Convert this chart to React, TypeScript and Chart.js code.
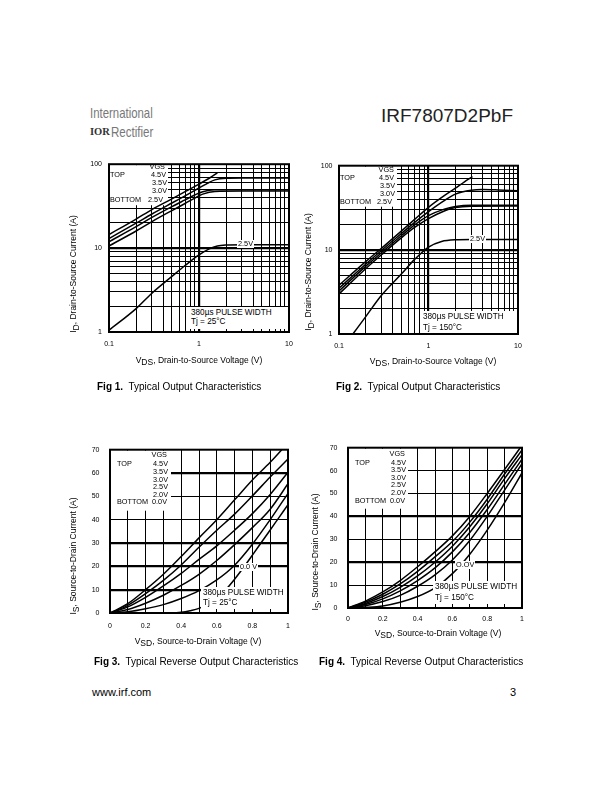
import React, { useEffect, useRef } from "react";
import { Chart, registerables } from "chart.js";
Chart.register(...registerables);

const FONT = "'Liberation Sans', Arial, Helvetica, sans-serif";

// ---------- grid / tick values ----------
const LOG_X_GRID = [0.1, 0.2, 0.3, 0.4, 0.5, 0.6, 0.7, 0.8, 0.9, 1, 2, 3, 4, 5, 6, 7, 8, 9, 10];
const LOG_X_LABELS = [0.1, 1, 10];
const LOG_Y_GRID = [1, 2, 3, 4, 5, 6, 7, 8, 9, 10, 20, 30, 40, 50, 60, 70, 80, 90, 100];
const LOG_Y_LABELS = [1, 10, 100];
const LIN_X_GRID = [0, 0.1, 0.2, 0.3, 0.4, 0.5, 0.6, 0.7, 0.8, 0.9, 1];
const LIN_X_LABELS = [0, 0.2, 0.4, 0.6, 0.8, 1];
const LIN_Y_GRID = [0, 10, 20, 30, 40, 50, 60, 70];
const LIN_Y_LABELS = [0, 10, 20, 30, 40, 50, 60, 70];

// ---------- Fig 1: output characteristics, Tj = 25°C ----------
const F1_VGS45_VDS = [0.1, 0.2, 0.3, 0.5, 0.7, 1.0, 1.3, 1.6];
const F1_VGS45_ID = [14.5, 22.2, 28.8, 38.6, 47, 58, 68, 79];
const F1_VGS35_VDS = [0.1, 0.2, 0.3, 0.5, 0.7, 1.0, 1.2, 1.5, 2, 3, 10];
const F1_VGS35_ID = [13, 19.8, 25.5, 34.5, 42, 52, 58, 65, 68, 68.5, 68.5];
const F1_VGS30_VDS = [0.1, 0.2, 0.3, 0.5, 0.7, 0.9, 1.1, 1.5, 3, 10];
const F1_VGS30_ID = [11.9, 18, 23.2, 31.2, 37.5, 43, 47, 49.5, 49.5, 49.5];
const F1_VGS25U_VDS = [0.1, 0.2, 0.3, 0.5, 0.7, 0.9, 1.1, 1.5, 3, 10];
const F1_VGS25U_ID = [10.6, 16, 20.7, 28, 34, 39.5, 44, 47.3, 47.8, 47.8];
const F1_VGS25_VDS = [0.1, 0.2, 0.3, 0.5, 0.7, 1.0, 1.3, 1.6, 2, 3, 10];
const F1_VGS25_ID = [1.05, 1.9, 2.9, 4.6, 6.2, 8.3, 9.8, 10.6, 10.9, 11, 11];

// ---------- Fig 2: output characteristics, Tj = 150°C ----------
const F2_VGS45_VDS = [0.1, 0.2, 0.3, 0.5, 0.7, 1, 1.5, 2, 2.5, 3.1];
const F2_VGS45_ID = [3.8, 7.3, 10.5, 16.8, 23, 32, 44, 54, 64, 74];
const F2_VGS35_VDS = [0.1, 0.2, 0.3, 0.5, 0.7, 1, 1.5, 2, 3, 4, 6, 10];
const F2_VGS35_ID = [3.5, 6.8, 9.9, 15.7, 21.2, 28.5, 38.5, 46, 51, 52, 51.5, 50.5];
const F2_VGS30_VDS = [0.1, 0.2, 0.3, 0.5, 0.7, 1, 1.5, 2, 3, 10];
const F2_VGS30_ID = [3.25, 6.4, 9.3, 14.8, 19.8, 25.5, 30.5, 32.8, 34, 34];
const F2_VGS25U_VDS = [0.1, 0.2, 0.3, 0.5, 0.7, 1, 1.5, 2, 3, 10];
const F2_VGS25U_ID = [3.0, 6.0, 8.8, 14, 18.5, 23.5, 29, 31.8, 33, 33.2];
const F2_VGS25_VDS = [0.143, 0.2, 0.3, 0.5, 0.7, 1, 1.4, 2, 3, 10];
const F2_VGS25_ID = [1, 1.62, 2.9, 5.2, 7.7, 10.8, 12.6, 13.2, 13.3, 13.3];

// ---------- Fig 3: reverse output characteristics, Tj = 25°C ----------
const F3_VSD = [0, 0.1, 0.2, 0.3, 0.4, 0.5, 0.6, 0.7, 0.8, 0.9, 1.0];
const F3_VGS45_VSD = [0, 0.1, 0.2, 0.3, 0.4, 0.5, 0.6, 0.7, 0.8, 0.9, 0.965];
const F3_VGS45_IS = [0, 4, 10, 16.6, 24.2, 32.2, 40, 48.5, 57, 64.6, 70];
const F3_VGS35_IS = [0, 3.3, 8.3, 14, 20.6, 28.2, 35.5, 42.4, 50.2, 58.3, 66];
const F3_VGS30_IS = [0, 2.6, 6.7, 11.6, 17, 23, 28.8, 35.5, 42.6, 50.8, 60.3];
const F3_VGS25_IS = [0, 1.5, 4.2, 7.6, 11.8, 16.6, 22.5, 29.3, 36.6, 44.5, 55.4];
const F3_VGS20_IS = [0, 0.5, 1.8, 3.6, 6.2, 9.6, 14.2, 20.5, 29.5, 40, 51.3];
const F3_VGS0_VSD = [0, 0.35, 0.4, 0.45, 0.5, 0.55, 0.6, 0.65, 0.7, 0.75, 0.8, 0.85, 0.9, 0.95, 1.0];
const F3_VGS0_IS = [0, 0, 0.3, 1, 2, 3.8, 6.5, 10, 14.5, 19.5, 24.8, 30.2, 35.6, 41, 46.4];

// ---------- Fig 4: reverse output characteristics, Tj = 150°C ----------
const F4_VSD = [0, 0.1, 0.2, 0.3, 0.4, 0.5, 0.6, 0.7, 0.8, 0.9, 1.0];
const F4_VGS45_VSD = [0, 0.1, 0.2, 0.3, 0.4, 0.5, 0.6, 0.7, 0.8, 0.9, 0.99];
const F4_VGS45_IS = [0, 3, 7, 12, 18, 24.5, 31.5, 40, 50, 60.5, 70];
const F4_VGS35_IS = [0, 2.5, 6, 10.5, 16, 22.3, 29, 37.5, 47.5, 58.5, 69];
const F4_VGS30_IS = [0, 2, 5, 9, 14, 20, 27, 35.5, 45.5, 56.5, 67];
const F4_VGS25_IS = [0, 1.5, 4, 7.5, 12, 17.5, 24.5, 33, 43, 54, 65];
const F4_VGS20_IS = [0, 1, 2.8, 5.5, 9.5, 14.5, 21, 29.5, 40, 51.5, 63];
const F4_VGS0_IS = [0, 0.3, 0.9, 2.5, 5, 8.8, 15, 23.5, 34, 46, 59];

// ---------- layout ----------
const L = 40, T = 10, R = 12, B = 24;

type Series = { x: number[]; y: number[] };
type Spec = {
  area: { left: number; top: number; width: number; height: number };
  log: boolean;
  xMin: number; xMax: number; yMin: number; yMax: number;
  xGrid: number[]; xLabels: number[]; yGrid: number[]; yLabels: number[];
  xThick: number[]; yThick: number[];
  series: Series[];
  masks: number[][];
  yPad: number; xPad: number;
};

const FIG1: Spec = {
  area: { left: 109, top: 163, width: 180, height: 169 },
  log: true, xMin: 0.1, xMax: 10, yMin: 1, yMax: 100,
  xGrid: LOG_X_GRID, xLabels: LOG_X_LABELS, yGrid: LOG_Y_GRID, yLabels: LOG_Y_LABELS,
  xThick: [1], yThick: [10],
  series: [
    { x: F1_VGS45_VDS, y: F1_VGS45_ID },
    { x: F1_VGS35_VDS, y: F1_VGS35_ID },
    { x: F1_VGS30_VDS, y: F1_VGS30_ID },
    { x: F1_VGS25U_VDS, y: F1_VGS25U_ID },
    { x: F1_VGS25_VDS, y: F1_VGS25_ID },
  ],
  masks: [[110, 164, 168, 204]],
  yPad: 7, xPad: 8,
};

const FIG2: Spec = {
  area: { left: 339, top: 165, width: 179, height: 169 },
  log: true, xMin: 0.1, xMax: 10, yMin: 1, yMax: 100,
  xGrid: LOG_X_GRID, xLabels: LOG_X_LABELS, yGrid: LOG_Y_GRID, yLabels: LOG_Y_LABELS,
  xThick: [1], yThick: [10],
  series: [
    { x: F2_VGS45_VDS, y: F2_VGS45_ID },
    { x: F2_VGS35_VDS, y: F2_VGS35_ID },
    { x: F2_VGS30_VDS, y: F2_VGS30_ID },
    { x: F2_VGS25U_VDS, y: F2_VGS25U_ID },
    { x: F2_VGS25_VDS, y: F2_VGS25_ID },
  ],
  masks: [[340, 166, 397, 206]],
  yPad: 6.5, xPad: 8,
};

const FIG3: Spec = {
  area: { left: 110, top: 445, width: 178, height: 168 },
  log: false, xMin: 0, xMax: 1, yMin: 0, yMax: 70,
  xGrid: LIN_X_GRID, xLabels: LIN_X_LABELS, yGrid: LIN_Y_GRID, yLabels: LIN_Y_LABELS,
  xThick: [], yThick: [10, 20, 30, 60],
  series: [
    { x: F3_VGS45_VSD, y: F3_VGS45_IS },
    { x: F3_VSD, y: F3_VGS35_IS },
    { x: F3_VSD, y: F3_VGS30_IS },
    { x: F3_VSD, y: F3_VGS25_IS },
    { x: F3_VSD, y: F3_VGS20_IS },
    { x: F3_VGS0_VSD, y: F3_VGS0_IS },
  ],
  masks: [[111, 446, 171, 506]],
  yPad: 10.5, xPad: 8.5,
};

const FIG4: Spec = {
  area: { left: 348, top: 443, width: 174, height: 165 },
  log: false, xMin: 0, xMax: 1, yMin: 0, yMax: 70,
  xGrid: LIN_X_GRID, xLabels: LIN_X_LABELS, yGrid: LIN_Y_GRID, yLabels: LIN_Y_LABELS,
  xThick: [], yThick: [20, 40],
  series: [
    { x: F4_VGS45_VSD, y: F4_VGS45_IS },
    { x: F4_VSD, y: F4_VGS35_IS },
    { x: F4_VSD, y: F4_VGS30_IS },
    { x: F4_VSD, y: F4_VGS25_IS },
    { x: F4_VSD, y: F4_VGS20_IS },
    { x: F4_VSD, y: F4_VGS0_IS },
  ],
  masks: [[349, 444, 408, 504]],
  yPad: 10.5, xPad: 7,
};

function buildConfig(s: Spec): any {
  const thickW = (list: number[]) => (ctx: any) =>
    ctx && ctx.tick && list.includes(ctx.tick.value) ? 2.2 : 1;
  const sheet = {
    id: "sheet",
    beforeDatasetsDraw(chart: any) {
      const { ctx, chartArea: a } = chart;
      ctx.save();
      ctx.fillStyle = "#fff";
      for (const [x1, y1, x2, y2] of s.masks) {
        ctx.fillRect(x1 - s.area.left + a.left, y1 - s.area.top + a.top, x2 - x1, y2 - y1);
      }
      ctx.restore();
    },
    afterDatasetsDraw(chart: any) {
      const { ctx, chartArea: a } = chart;
      ctx.save();
      ctx.strokeStyle = "#000";
      ctx.lineWidth = 2;
      ctx.strokeRect(a.left, a.top, a.right - a.left, a.bottom - a.top);
      ctx.restore();
    },
  };
  const tickFont = { family: FONT, size: 7 };
  return {
    type: "line",
    data: {
      datasets: s.series.map((se) => ({
        data: se.x.map((x, i) => ({ x, y: se.y[i] })),
        borderColor: "#000",
        borderWidth: 1.5,
        pointRadius: 0,
        fill: false,
        cubicInterpolationMode: "monotone",
      })),
    },
    options: {
      responsive: false,
      maintainAspectRatio: false,
      animation: false,
      devicePixelRatio: 1,
      events: [],
      layout: { padding: { top: T, right: R, left: 0, bottom: 0 } },
      plugins: { legend: { display: false }, tooltip: { enabled: false }, title: { display: false } },
      scales: {
        x: {
          type: s.log ? "logarithmic" : "linear",
          position: "bottom",
          min: s.xMin,
          max: s.xMax,
          afterBuildTicks: (sc: any) => { sc.ticks = s.xGrid.map((v) => ({ value: v })); },
          afterFit: (sc: any) => { sc.height = B; },
          ticks: {
            autoSkip: false, maxRotation: 0, minRotation: 0, padding: s.xPad, color: "#000", font: tickFont,
            callback: (v: any) => (s.xLabels.includes(v) ? String(v) : ""),
          },
          grid: { color: "#000", lineWidth: thickW(s.xThick), drawTicks: false },
          border: { display: false },
        },
        y: {
          type: s.log ? "logarithmic" : "linear",
          position: "left",
          min: s.yMin,
          max: s.yMax,
          afterBuildTicks: (sc: any) => { sc.ticks = s.yGrid.map((v) => ({ value: v })); },
          afterFit: (sc: any) => { sc.width = L; },
          ticks: {
            autoSkip: false, padding: s.yPad, color: "#000", font: tickFont,
            callback: (v: any) => (s.yLabels.includes(v) ? String(v) : ""),
          },
          grid: { color: "#000", lineWidth: thickW(s.yThick), drawTicks: false },
          border: { display: false },
        },
      },
    },
    plugins: [sheet],
  };
}

function Plot({ spec }: { spec: Spec }) {
  const ref = useRef<HTMLCanvasElement>(null);
  useEffect(() => {
    const chart = new Chart(ref.current as HTMLCanvasElement, buildConfig(spec));
    return () => chart.destroy();
  }, [spec]);
  const { left, top, width, height } = spec.area;
  const w = width + L + R, h = height + T + B;
  return (
    <canvas
      ref={ref}
      width={w}
      height={h}
      style={{ position: "absolute", left: left - L, top: top - T, width: w, height: h, zIndex: 1 }}
    />
  );
}

function Txt(props: any) {
  const { x, y, size = 7.3, children, bold = false, bg = false, align = "left", color = "#000", family = FONT, extra = {} } = props;
  const style: any = {
    position: "absolute", left: x, top: y - size / 2, fontSize: size, lineHeight: `${size}px`,
    fontFamily: family, whiteSpace: "pre", color, fontWeight: bold ? "bold" : "normal",
    background: bg ? "#fff" : "transparent", zIndex: 3, ...extra,
  };
  if (align === "center") style.transform = "translateX(-50%)";
  if (align === "right") style.transform = "translateX(-100%)";
  return <div style={style}>{children}</div>;
}

function Box({ x1, y1, x2, y2 }: any) {
  return <div style={{ position: "absolute", left: x1, top: y1, width: x2 - x1, height: y2 - y1, background: "#fff", zIndex: 2 }} />;
}

const sub = (t: string) => (
  <span style={{ fontSize: "1em", position: "relative", top: "0.3em" }}>{t}</span>
);

function XTitle({ cx, cy, v, rest, size = 8.5 }: any) {
  return (
    <div style={{ position: "absolute", left: cx, top: cy - size / 2, transform: "translateX(-50%)", fontSize: size, lineHeight: `${size}px`, fontFamily: FONT, whiteSpace: "pre", zIndex: 3 }}>
      V{sub(v)}{rest}
    </div>
  );
}

function YTitle({ cx, cy, s, rest, size = 8.5 }: any) {
  return (
    <div style={{ position: "absolute", left: cx, top: cy, transform: "translate(-50%,-50%) rotate(-90deg)", fontSize: size, lineHeight: `${size + 2}px`, fontFamily: FONT, whiteSpace: "pre", zIndex: 3 }}>
      I{sub(s)}{rest}
    </div>
  );
}

function Caption({ x, y, n, text }: any) {
  return (
    <div style={{ position: "absolute", left: x, top: y - 5, fontSize: 10, lineHeight: "10px", fontFamily: FONT, whiteSpace: "pre", zIndex: 3 }}>
      <b>{`Fig ${n}.`}</b>{`  ${text}`}
    </div>
  );
}

export default function App() {
  return (
    <div style={{ position: "absolute", left: 0, top: 0, width: 612, height: 792, background: "#fff", overflow: "hidden", color: "#000" }}>
      {/* header */}
      <div style={{ position: "absolute", left: 90, top: 105, fontSize: 15, lineHeight: "15px", fontFamily: FONT, color: "#777", transform: "scaleX(0.76)", transformOrigin: "left", whiteSpace: "pre" }}>International</div>
      <div style={{ position: "absolute", left: 90, top: 127, fontSize: 10.5, lineHeight: "10.5px", fontFamily: "'Liberation Serif', serif", fontWeight: "bold", color: "#333", whiteSpace: "pre" }}>IOR</div>
      <div style={{ position: "absolute", left: 110.5, top: 124, fontSize: 15, lineHeight: "15px", fontFamily: FONT, color: "#777", transform: "scaleX(0.77)", transformOrigin: "left", whiteSpace: "pre" }}>Rectifier</div>
      <div style={{ position: "absolute", left: 381, top: 105.5, fontSize: 19, lineHeight: "19px", fontFamily: FONT, color: "#222", whiteSpace: "pre" }}>IRF7807D2PbF</div>

      <Plot spec={FIG1} />
      <Plot spec={FIG2} />
      <Plot spec={FIG3} />
      <Plot spec={FIG4} />

      {/* Fig 1 overlays */}
      <Txt x={165} y={167} align="right">VGS</Txt>
      <Txt x={110} y={174.5}>TOP</Txt>
      <Txt x={166} y={174.5} align="right">4.5V</Txt>
      <Txt x={167} y={183} align="right">3.5V</Txt>
      <Txt x={167} y={191} align="right">3.0V</Txt>
      <Txt x={110} y={200}>BOTTOM</Txt>
      <Txt x={163} y={200} align="right">2.5V</Txt>
      <Txt x={237} y={244} bg extra={{ padding: "0 1px" }}>2.5V</Txt>
      <Box x1={190} y1={307} x2={288} y2={329} />
      <Txt x={191} y={313} size={8.2}>380µs PULSE WIDTH</Txt>
      <Txt x={191} y={322.5} size={8.2}>Tj = 25°C</Txt>
      <XTitle cx={199} cy={360} v="DS" rest=", Drain-to-Source Voltage (V)" />
      <YTitle cx={73} cy={274} s="D" rest=", Drain-to-Source Current (A)" />
      <Caption x={97} y={387} n={1} text="Typical Output Characteristics" />

      {/* Fig 2 overlays */}
      <Txt x={394} y={170} align="right">VGS</Txt>
      <Txt x={340} y={178}>TOP</Txt>
      <Txt x={394} y={178} align="right">4.5V</Txt>
      <Txt x={395} y={185.5} align="right">3.5V</Txt>
      <Txt x={395} y={193.5} align="right">3.0V</Txt>
      <Txt x={340} y={202}>BOTTOM</Txt>
      <Txt x={392} y={202} align="right">2.5V</Txt>
      <Txt x={469} y={239} bg extra={{ padding: "0 1px" }}>2.5V</Txt>
      <Box x1={421} y1={311} x2={517} y2={333} />
      <Txt x={423} y={317.5} size={8.2}>380µs PULSE WIDTH</Txt>
      <Txt x={423} y={328} size={8.2}>Tj = 150°C</Txt>
      <XTitle cx={433} cy={361} v="DS" rest=", Drain-to-Source Voltage (V)" />
      <YTitle cx={308} cy={272} s="D" rest=", Drain-to-Source Current (A)" />
      <Caption x={336} y={387} n={2} text="Typical Output Characteristics" />

      {/* Fig 3 overlays */}
      <Txt x={167} y={454.5} align="right">VGS</Txt>
      <Txt x={117} y={463.7}>TOP</Txt>
      <Txt x={168} y={463.7} align="right">4.5V</Txt>
      <Txt x={168} y={471.7} align="right">3.5V</Txt>
      <Txt x={168} y={479.2} align="right">3.0V</Txt>
      <Txt x={168} y={486.7} align="right">2.5V</Txt>
      <Txt x={168} y={494.2} align="right">2.0V</Txt>
      <Txt x={117} y={501.7}>BOTTOM</Txt>
      <Txt x={167} y={501.7} align="right">0.0V</Txt>
      <Txt x={239} y={567} bg extra={{ padding: "0 1px" }}>0.0 V</Txt>
      <Box x1={201} y1={587} x2={287} y2={609} />
      <Txt x={203} y={593.3} size={8.2}>380µs PULSE WIDTH</Txt>
      <Txt x={203} y={603} size={8.2}>Tj = 25°C</Txt>
      <XTitle cx={198} cy={641} v="SD" rest=", Source-to-Drain Voltage (V)" />
      <YTitle cx={73} cy={556} s="S" rest=", Source-to-Drain Current (A)" />
      <Caption x={94} y={662} n={3} text="Typical Reverse Output Characteristics" />

      {/* Fig 4 overlays */}
      <Txt x={405} y={454} align="right">VGS</Txt>
      <Txt x={355} y={462.3}>TOP</Txt>
      <Txt x={406} y={462.3} align="right">4.5V</Txt>
      <Txt x={406} y={470} align="right">3.5V</Txt>
      <Txt x={406} y={477.3} align="right">3.0V</Txt>
      <Txt x={406} y={485} align="right">2.5V</Txt>
      <Txt x={406} y={492.3} align="right">2.0V</Txt>
      <Txt x={355} y={500.7}>BOTTOM</Txt>
      <Txt x={405} y={500.7} align="right">0.0V</Txt>
      <Txt x={455} y={565} bg extra={{ padding: "0 1px" }}>O.OV</Txt>
      <Box x1={433} y1={581} x2={521} y2={604} />
      <Txt x={435} y={587.3} size={8.2}>380µS PULSE WIDTH</Txt>
      <Txt x={435} y={597.7} size={8.2}>Tj = 150°C</Txt>
      <XTitle cx={438} cy={633} v="SD" rest=", Source-to-Drain Voltage (V)" />
      <YTitle cx={315} cy={552} s="S" rest=", Source-to-Drain Current (A)" />
      <Caption x={319} y={662} n={4} text="Typical Reverse Output Characteristics" />

      {/* footer */}
      <Txt x={92} y={692.5} size={11}>www.irf.com</Txt>
      <Txt x={510} y={692.5} size={11}>3</Txt>
    </div>
  );
}
